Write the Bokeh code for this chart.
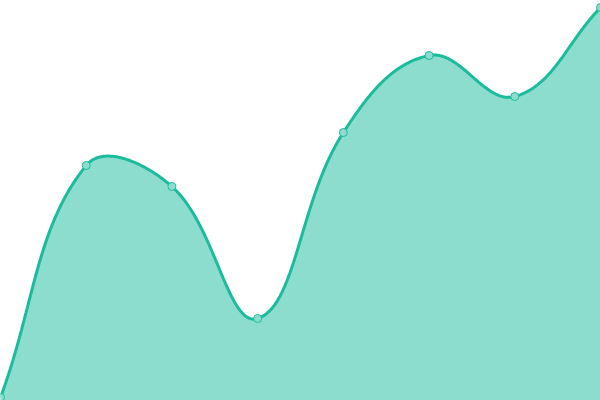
import numpy as np
from bokeh.plotting import figure
from bokeh.embed import file_html
from bokeh.resources import INLINE

# ---- data ----
x_values = [0, 1, 2, 3, 4, 5, 6, 7]
y_values = [0.75, 58.75, 53.5, 20.5, 67, 86.25, 76, 98.25]

LINE_COLOR = "#1abc9c"
POINT_FILL = "#8cddcd"
TENSION = 0.4

W, H = 600, 400
XMIN, XMAX, YMIN, YMAX = 0, 7, 0, 100


def smooth(xs, ys, t):
    """Chart.js-like spline (tension t) computed in screen-proportional space."""
    sx = W / (XMAX - XMIN)
    sy = H / (YMAX - YMIN)
    pts = np.array([[(x - XMIN) * sx, (y - YMIN) * sy] for x, y in zip(xs, ys)])
    n = len(pts)
    cp_prev = np.zeros_like(pts)
    cp_next = np.zeros_like(pts)
    for i in range(n):
        cur = pts[i]
        prev = pts[i - 1] if i > 0 else cur
        nxt = pts[i + 1] if i < n - 1 else cur
        d01 = np.hypot(*(cur - prev))
        d12 = np.hypot(*(nxt - cur))
        tot = d01 + d12
        s01 = d01 / tot if tot else 0
        s12 = d12 / tot if tot else 0
        fa, fb = t * s01, t * s12
        cp_prev[i] = cur - fa * (nxt - prev)
        cp_next[i] = cur + fb * (nxt - prev)
    for arr in (cp_prev, cp_next):
        arr[:, 0] = np.clip(arr[:, 0], 0, W)
        arr[:, 1] = np.clip(arr[:, 1], 0, H)
    out = []
    tt = np.linspace(0, 1, 60)[:, None]
    for i in range(n - 1):
        p0, p1, p2, p3 = pts[i], cp_next[i], cp_prev[i + 1], pts[i + 1]
        seg = ((1 - tt) ** 3) * p0 + 3 * ((1 - tt) ** 2) * tt * p1 + 3 * (1 - tt) * tt ** 2 * p2 + tt ** 3 * p3
        out.append(seg if i == 0 else seg[1:])
    out = np.vstack(out)
    return out[:, 0] / sx + XMIN, out[:, 1] / sy + YMIN


cx, cy = smooth(x_values, y_values, TENSION)

p = figure(width=W, height=H, x_range=(XMIN, XMAX), y_range=(YMIN, YMAX),
           output_backend="svg", toolbar_location=None, min_border=0,
           outline_line_color=None, background_fill_color="white",
           border_fill_color="white")
p.axis.visible = False
p.grid.visible = False
p.styles = {"position": "fixed", "left": "0px", "top": "0px"}

p.varea(x=cx, y1=np.full_like(cy, YMIN), y2=cy, fill_color=LINE_COLOR, fill_alpha=0.5)
p.line(cx, cy, line_color=LINE_COLOR, line_width=3)
p.scatter(x_values, y_values, size=8, fill_color=POINT_FILL,
          line_color=LINE_COLOR, line_width=1)

open("out.html", "w").write(file_html(p, INLINE))
